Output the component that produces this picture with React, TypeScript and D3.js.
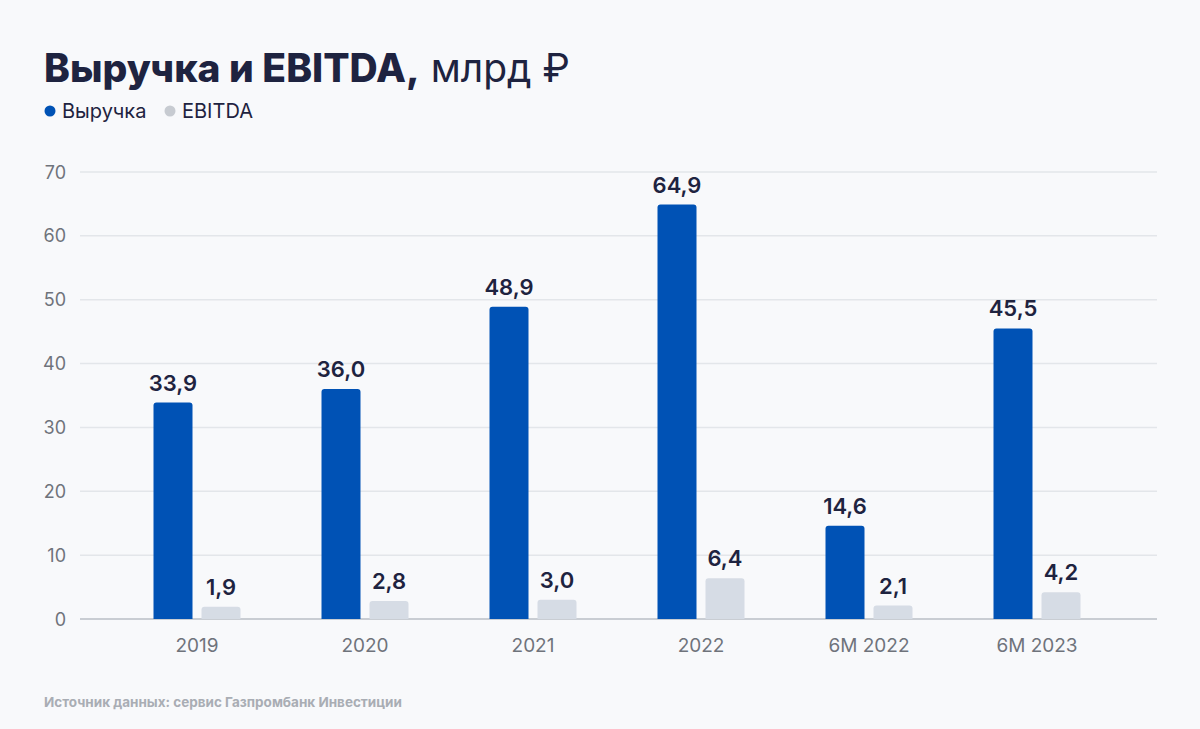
import React from "react";
import * as d3 from "d3";

const categories = ["2019", "2020", "2021", "2022", "6M 2022", "6M 2023"];
const revenue = [33.9, 36.0, 48.9, 64.9, 14.6, 45.5];
const ebitda = [1.9, 2.8, 3.0, 6.4, 2.1, 4.2];
const yTicks = [0, 10, 20, 30, 40, 50, 60, 70];
const seriesNames = ["Выручка", "EBITDA"];

const W = 1200;
const H = 729;
const FONT = "Inter, 'Noto Sans', sans-serif";
const BLUE = "#0052b5";
const GRAY = "#d6dce5";
const DARK = "#1e2340";

const fmt = (v: number) => v.toFixed(1).replace(".", ",");

// rect with rounded top corners only
function topRounded(x: number, y: number, w: number, h: number, r: number) {
  const rr = Math.min(r, h, w / 2);
  return `M${x},${y + h}V${y + rr}Q${x},${y} ${x + rr},${y}H${x + w - rr}Q${x + w},${y} ${x + w},${y + rr}V${y + h}Z`;
}

export default function App() {
  const x0 = d3.scaleBand<string>().domain(categories).range([113, 1121]);
  const y = d3.scaleLinear().domain([0, 70]).range([619, 172]);
  const barW = 39;
  const gap = 9;

  return (
    <svg
      width={W}
      height={H}
      style={{ position: "absolute", left: 0, top: 0, display: "block" }}
      fontFamily={FONT}
    >
      <rect width={W} height={H} fill="#f8f9fb" />
      <text x={44} y={82} fontSize={39} fill={DARK}>
        <tspan fontWeight={800}>Выручка и EBITDA,</tspan>
        <tspan fontWeight={400}> млрд ₽</tspan>
      </text>

      {/* legend */}
      <circle cx={50} cy={111} r={5.5} fill={BLUE} />
      <text x={62} y={118} fontSize={20} fill={DARK}>{seriesNames[0]}</text>
      <circle cx={170} cy={111} r={5.5} fill="#c7cbd1" />
      <text x={182} y={118} fontSize={20} fill={DARK}>{seriesNames[1]}</text>

      {/* grid */}
      {yTicks.map((t) => (
        <g key={t}>
          <line x1={80} x2={1157} y1={y(t)} y2={y(t)} stroke={t === 0 ? "#c9cdd3" : "#e3e6ea"} strokeWidth={t === 0 ? 2 : 1.5} />
          <text x={66} y={y(t) + 6.5} fontSize={18} fill="#6f737b" textAnchor="end">{t}</text>
        </g>
      ))}

      {categories.map((c, i) => {
        const cx = x0(c)! + x0.bandwidth() / 2;
        const bx = cx - gap / 2 - barW;
        const gx = cx + gap / 2;
        return (
          <g key={c}>
            <path d={topRounded(bx, y(revenue[i]), barW, y(0) - y(revenue[i]), 3)} fill={BLUE} />
            <path d={topRounded(gx, y(ebitda[i]), barW, y(0) - y(ebitda[i]), 3)} fill={GRAY} />
            <text x={bx + barW / 2} y={y(revenue[i]) - 12} fontSize={22} fontWeight={600} fill={DARK} textAnchor="middle">{fmt(revenue[i])}</text>
            <text x={gx + barW / 2} y={y(ebitda[i]) - 12} fontSize={22} fontWeight={600} fill={DARK} textAnchor="middle">{fmt(ebitda[i])}</text>
            <text x={cx} y={652} fontSize={19} fill="#6f737b" textAnchor="middle">{c}</text>
          </g>
        );
      })}

      <text x={44} y={707} fontSize={13.5} fontWeight={700} fill="#a9adb4">Источник данных: сервис Газпромбанк Инвестиции</text>
    </svg>
  );
}
